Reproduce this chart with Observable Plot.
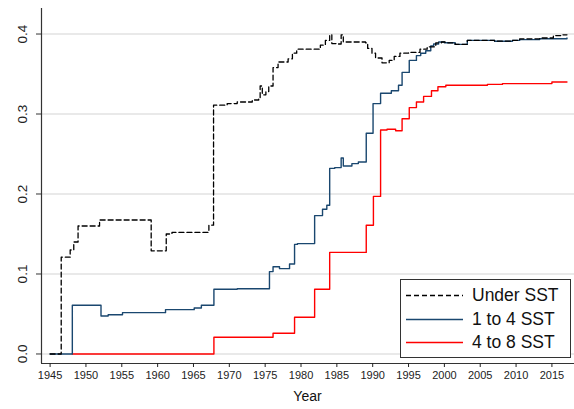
<!DOCTYPE html>
<html>
<head>
<meta charset="utf-8">
<script src="https://cdn.jsdelivr.net/npm/d3@7"></script>
<script src="https://cdn.jsdelivr.net/npm/@observablehq/plot@0.6"></script>
<style>
  html, body { margin: 0; padding: 0; background: #fff; }
  #wrap { position: relative; width: 574px; height: 409px; font-family: "Liberation Sans", Arial, sans-serif; }
  #legend { position: absolute; left: 400px; top: 279px; width: 169px; height: 77px; border: 1.3px solid #333; background: #fff; }
  #legend .row { position: absolute; left: 0; height: 20px; width: 169px; }
  #legend svg { position: absolute; left: 5px; top: 0; }
  #legend span { position: absolute; left: 71px; top: 0; font-size: 17.5px; line-height: 20px; color: #111; white-space: nowrap; }
  #xlabel { position: absolute; left: 41px; width: 533px; top: 388px; text-align: center; font-size: 14px; color: #111; }
</style>
</head>
<body>
<div id="wrap">
  <div id="chart"></div>
  <div id="xlabel"></div>
  <div id="legend"></div>
</div>
<script>
// ---- data ----
const seriesNames = ["Under SST", "1 to 4 SST", "4 to 8 SST"];
const seriesColors = ["#000000", "#1a476f", "#ff0000"];
const xLabel = "Year";
const xTicks = [1945, 1950, 1955, 1960, 1965, 1970, 1975, 1980, 1985, 1990, 1995, 2000, 2005, 2010, 2015];
const yTicks = [0, 0.1, 0.2, 0.3, 0.4];

const underYears = [1945, 1946.55, 1947.8, 1948.3, 1948.9, 1951.9, 1959.1, 1961.2, 1962.0, 1967.15, 1967.8,
  1969.7, 1971.1, 1973.2, 1974.1, 1974.3, 1974.6, 1975.1, 1975.5, 1976.1, 1976.8, 1978.2, 1978.8, 1979.4,
  1982.7, 1983.4, 1984.0, 1984.3, 1985.1, 1985.6, 1985.9, 1989.0, 1989.3, 1989.9, 1990.4, 1991.3, 1992.3,
  1993.0, 1993.8, 1995.0, 1996.6, 1997.6, 1998.8, 1999.6, 2000.1, 2001.5, 2003.2, 2007.0, 2009.5, 2010.5,
  2013.3, 2015.2, 2016.5, 2017.1];
const underValues = [0, 0.121, 0.13, 0.14, 0.16, 0.1675, 0.129, 0.15, 0.152, 0.161, 0.311,
  0.313, 0.315, 0.3175, 0.319, 0.335, 0.324, 0.328, 0.335, 0.358, 0.365, 0.369, 0.376, 0.381,
  0.386, 0.392, 0.399, 0.388, 0.3875, 0.399, 0.39, 0.389, 0.382, 0.376, 0.37, 0.364, 0.367,
  0.372, 0.376, 0.377, 0.381, 0.384, 0.389, 0.39, 0.389, 0.387, 0.392, 0.391, 0.392, 0.394,
  0.395, 0.398, 0.399, 0.399];

const midYears = [1945, 1948.1, 1952.1, 1953.1, 1955.1, 1961.1, 1965.1, 1966.1, 1967.85, 1971.1, 1975.6,
  1976.1, 1977.0, 1978.4, 1979.1, 1979.5, 1981.9, 1983.0, 1983.6, 1984.0, 1984.7, 1985.6, 1985.9, 1987.1,
  1988.0, 1989.1, 1990.05, 1991.1, 1992.6, 1993.6, 1994.1, 1995.1, 1996.1, 1996.7, 1997.4, 1998.1, 1998.5,
  1999.2, 2000.0, 2001.5, 2003.2, 2007.0, 2009.5, 2010.5, 2013.3, 2017.1];
const midValues = [0, 0.061, 0.0475, 0.049, 0.0517, 0.0554, 0.0575, 0.061, 0.081, 0.0816, 0.103,
  0.109, 0.1067, 0.1125, 0.137, 0.138, 0.173, 0.181, 0.186, 0.232, 0.233, 0.245, 0.235, 0.238,
  0.24, 0.276, 0.313, 0.326, 0.329, 0.336, 0.352, 0.367, 0.373, 0.376, 0.379, 0.385, 0.3875,
  0.39, 0.389, 0.387, 0.392, 0.391, 0.392, 0.393, 0.394, 0.395];

const highYears = [1948.1, 1967.85, 1976.1, 1979.1, 1981.9, 1984.0, 1989.1, 1990.1, 1991.1, 1992.0, 1993.2,
  1994.1, 1995.1, 1996.1, 1997.1, 1998.2, 1999.1, 2000.2, 2006.0, 2008.1, 2015.0, 2017.1];
const highValues = [0, 0.021, 0.026, 0.046, 0.081, 0.127, 0.161, 0.197, 0.28, 0.281, 0.279,
  0.294, 0.308, 0.315, 0.322, 0.329, 0.334, 0.336, 0.337, 0.338, 0.34, 0.34];

// ---- build ----
const toRows = (ys, vs) => ys.map((y, i) => ({year: y, value: vs[i]}));
const under = toRows(underYears, underValues);
const mid = toRows(midYears, midValues);
const high = toRows(highYears, highValues);

const xDomain = [1943.8, 2018.15];
const yDomain = [-0.0119, 0.4319];
const font = "'Liberation Sans', Arial, sans-serif";

const chart = Plot.plot({
  width: 574,
  height: 409,
  marginLeft: 41,
  marginRight: 0,
  marginTop: 8,
  marginBottom: 46,
  x: {domain: xDomain},
  y: {domain: yDomain},
  style: {fontFamily: font, fontSize: "11px", color: "#333", background: "#fff"},
  marks: [
    Plot.ruleY(yTicks, {stroke: "#e2e2e2", strokeWidth: 1.5}),
    Plot.line(high, {x: "year", y: "value", curve: "step-after", stroke: seriesColors[2], strokeWidth: 1.4}),
    Plot.line(mid, {x: "year", y: "value", curve: "step-after", stroke: seriesColors[1], strokeWidth: 1.4}),
    Plot.line(under, {x: "year", y: "value", curve: "step-after", stroke: seriesColors[0], strokeWidth: 1.3, strokeDasharray: "5,3"}),
    Plot.ruleX([xDomain[0]], {stroke: "#333", strokeWidth: 1.2}),
    Plot.ruleY([yDomain[0]], {stroke: "#333", strokeWidth: 1.2}),
    Plot.axisX({ticks: xTicks, tickSize: 4, tickPadding: 4, tickFormat: d => String(d), label: null, fontSize: 11, color: "#222"}),
    Plot.axisY({ticks: yTicks, tickSize: 5, tickFormat: () => "", label: null}),
    Plot.text(yTicks, {x: xDomain[0], y: d => d, text: d => d.toFixed(1), rotate: -90, dx: -19, fontSize: 13.5, textAnchor: "middle", fill: "#222"})
  ]
});
document.getElementById("chart").appendChild(chart);
document.getElementById("xlabel").textContent = xLabel;

// legend
const legend = document.getElementById("legend");
const rowTops = [5, 29, 52];
seriesNames.forEach((name, i) => {
  const row = document.createElement("div");
  row.className = "row";
  row.style.top = rowTops[i] + "px";
  const dash = i === 0 ? ' stroke-dasharray="5,3"' : "";
  row.innerHTML = `<svg width="60" height="20"><line x1="0" x2="57" y1="10.5" y2="10.5" stroke="${seriesColors[i]}" stroke-width="1.3"${dash}/></svg><span>${name}</span>`;
  legend.appendChild(row);
});
</script>
</body>
</html>
